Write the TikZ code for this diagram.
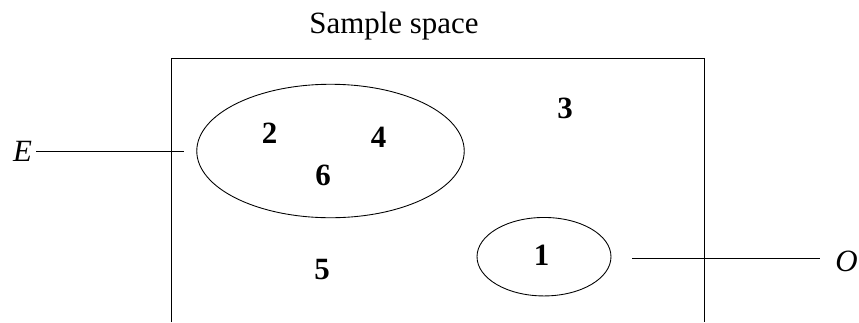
\documentclass[tikz,border=0pt]{standalone}
\usepackage{fontspec}
\setmainfont{Liberation Serif}
\usetikzlibrary{shapes.geometric}

\begin{document}
\begin{tikzpicture}[x=0.02cm, y=-0.02cm,
	every node/.style={font=\fontsize{17.6}{20}\selectfont, inner sep=0pt},
	outcome/.style={font=\fontsize{17.6}{20}\selectfont\bfseries},
	event/.style={draw, ellipse, line width=0.5pt},
	tag/.style={font=\fontsize{17.6}{20}\selectfont\itshape, anchor=base}]

	\useasboundingbox (0,0) rectangle (859,322);

	% sample space (open at the bottom)
	\node[anchor=base] (title) at (394,33) {Sample space};
	\draw[line width=0.5pt] (171,322) -- (171,58.3) -- (704.5,58.3) -- (704.5,322);

	% events
	\node[event, minimum width=5.35cm, minimum height=2.67cm] (even) at (330.5,151) {};
	\node[event, minimum width=2.68cm, minimum height=1.57cm] (odd) at (544,256.7) {};

	% outcomes
	\node[outcome] (o2) at (269.5,133.5) {2};
	\node[outcome] (o4) at (378.5,137) {4};
	\node[outcome] (o6) at (323,175) {6};
	\node[outcome] (o3) at (565,108.5) {3};
	\node[outcome] (o5) at (322,270) {5};
	\node[outcome] (o1) at (541.5,255.5) {1};

	% labels of the events
	\node[tag] (E) at (22.5,161.7) {E};
	\coordinate (Eend) at (184,151.7);
	\draw[line width=0.5pt, shorten <=0.08cm] (E.east |- Eend) -- (Eend);

	\node[tag] (O) at (846.5,271) {O};
	\coordinate (Ostart) at (632,258);
	\draw[line width=0.5pt, shorten >=0.3cm] (Ostart) -- (O.west |- Ostart);

\end{tikzpicture}
\end{document}
